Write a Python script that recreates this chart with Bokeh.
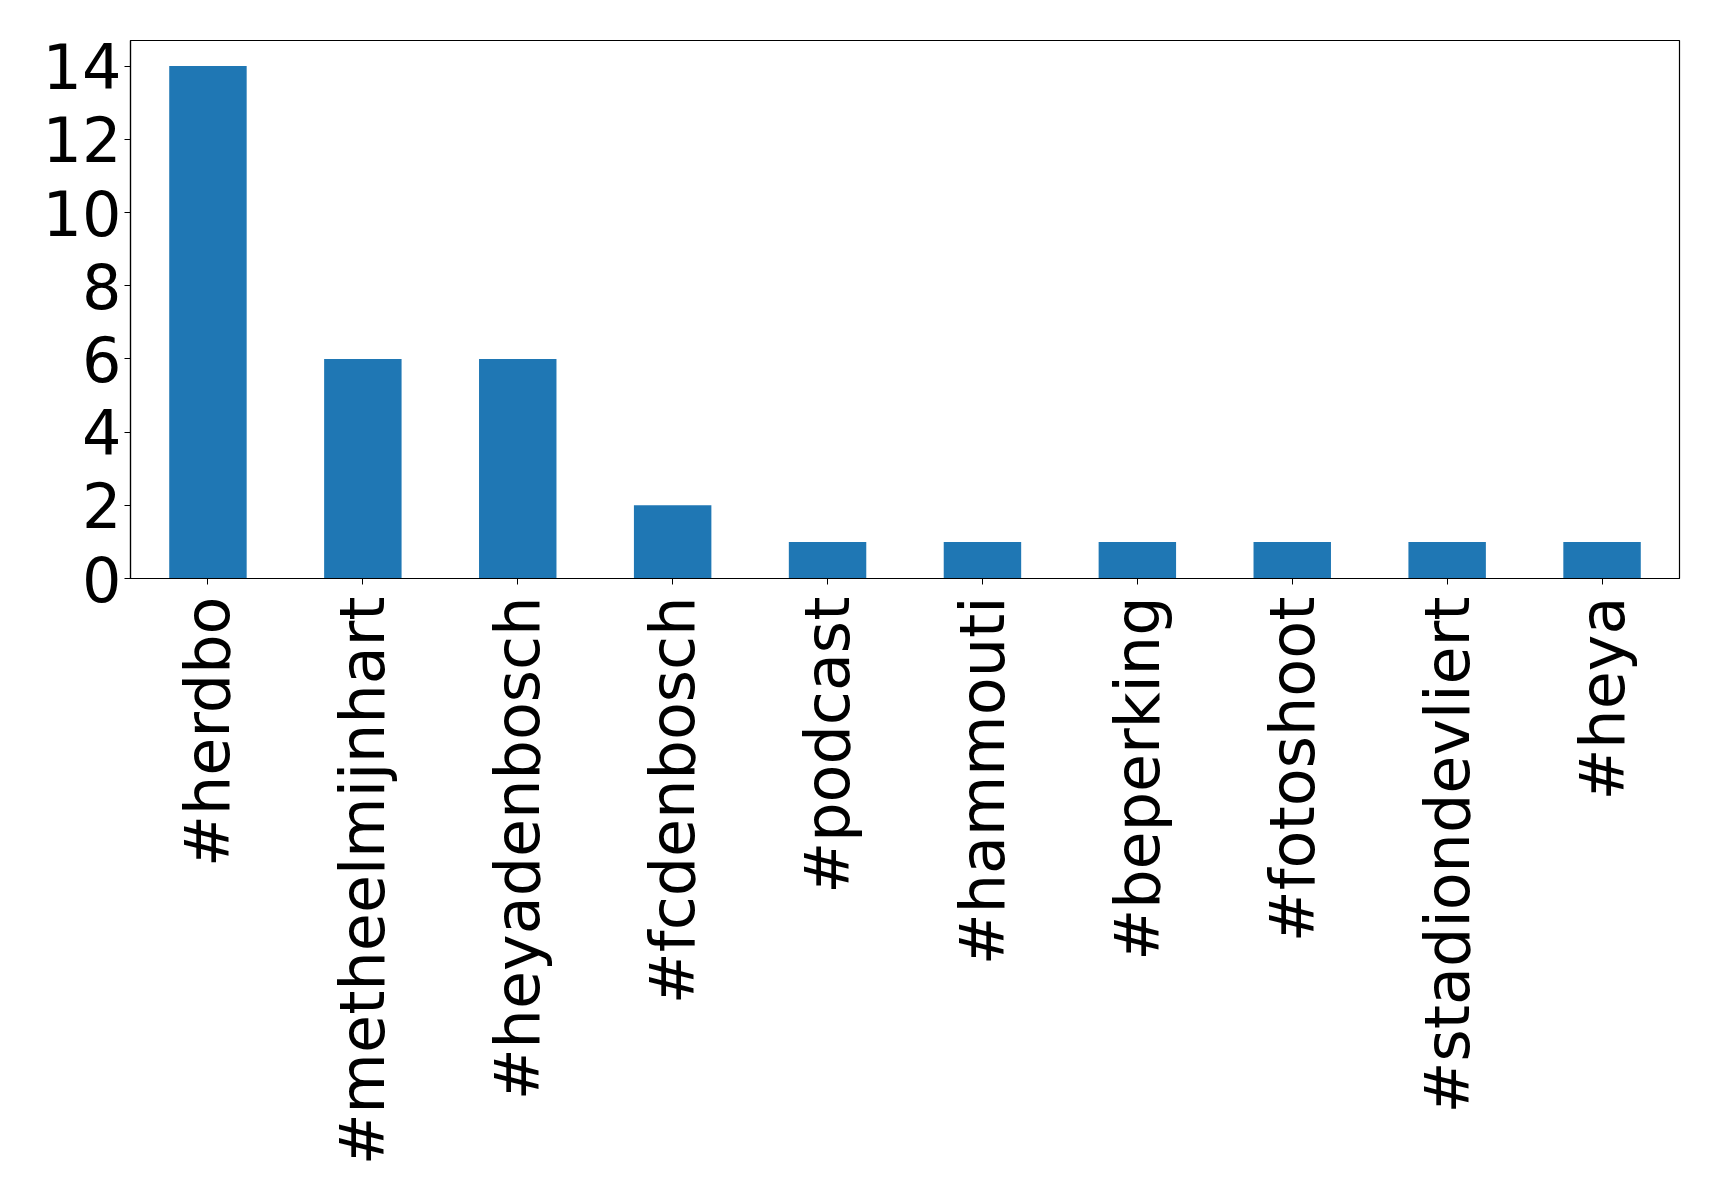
import math
from bokeh.plotting import figure
from bokeh.models import FactorRange, Range1d, FixedTicker, ColumnDataSource
from bokeh.embed import file_html
from bokeh.resources import INLINE

hashtags = ["#herdbo", "#metheelmijnhart", "#heyadenbosch", "#fcdenbosch", "#podcast",
            "#hammouti", "#beperking", "#fotoshoot", "#stadiondevliert", "#heya"]
counts = [14, 6, 6, 2, 1, 1, 1, 1, 1, 1]
y_ticks = [0, 2, 4, 6, 8, 10, 12, 14]

src = ColumnDataSource(dict(tag=hashtags, count=counts))

p = figure(x_range=FactorRange(factors=hashtags, range_padding=0),
           y_range=Range1d(0, 14.7),
           frame_width=1549, frame_height=538,
           min_border_left=130, min_border_right=24, min_border_top=40, min_border_bottom=606,
           output_backend="svg", toolbar_location=None, tools="")

p.vbar(x="tag", top="count", width=0.5, source=src, color="#1f77b4", line_color=None)

p.xgrid.visible = False
p.ygrid.visible = False
p.outline_line_color = "black"
p.outline_line_width = 1.2
p.background_fill_color = "white"
p.border_fill_color = "white"

p.yaxis.ticker = FixedTicker(ticks=y_ticks)
for ax in (p.xaxis[0], p.yaxis[0]):
    ax.major_label_text_font = "DejaVu Sans"
    ax.major_label_text_color = "black"
    ax.axis_line_color = "black"
    ax.axis_line_width = 1.2
    ax.major_tick_line_color = "black"
    ax.major_tick_out = 6
    ax.major_tick_in = 0
    ax.minor_tick_line_color = None

p.yaxis.major_label_text_font_size = "62px"
p.xaxis.major_label_text_font_size = "62px"
p.yaxis.major_label_standoff = 3
p.xaxis.major_label_standoff = 12
p.xaxis.major_label_orientation = math.pi / 2

open("out.html", "w").write(file_html(p, INLINE))
